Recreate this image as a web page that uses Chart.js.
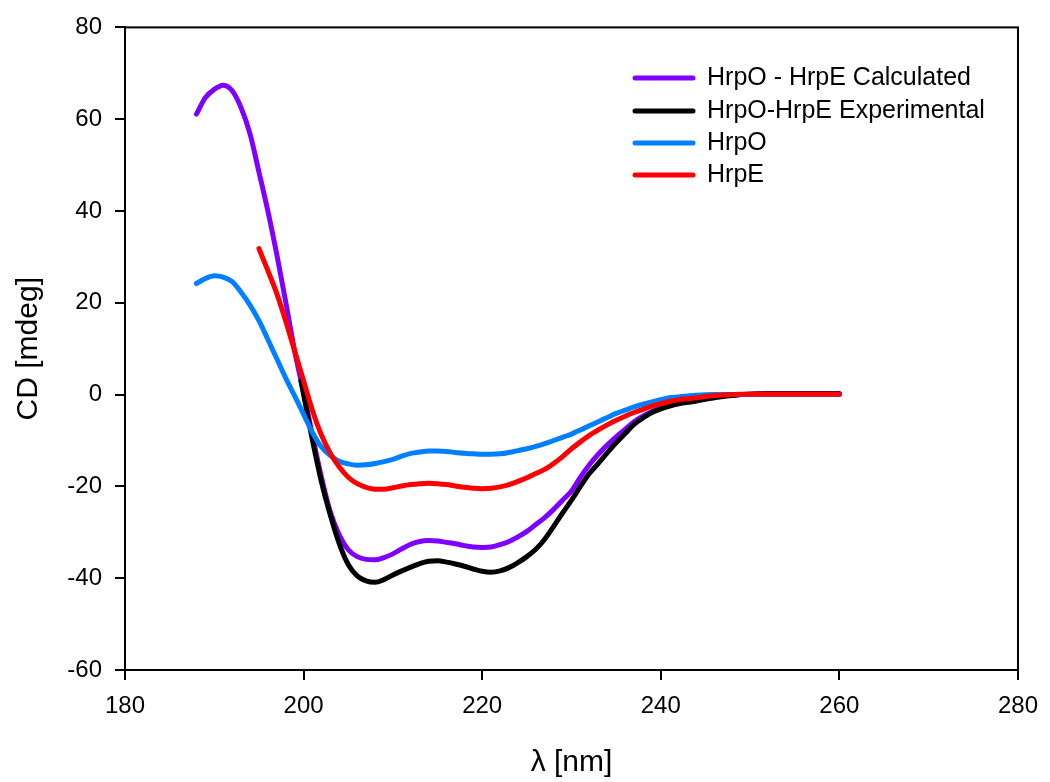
<!DOCTYPE html>
<html>
<head>
<meta charset="utf-8">
<script src="https://cdn.jsdelivr.net/npm/chart.js@4.4.0/dist/chart.umd.min.js"></script>
<style>
html,body{margin:0;padding:0;background:#fff;}
#wrap{width:1050px;height:782px;}
</style>
</head>
<body>
<div id="wrap"><canvas id="c" width="1050" height="782"></canvas></div>
<script>
// Wavelengths (nm)
const wavelengths = [188,189,190,191,192,193,194,195,196,197,198,199,200,201,202,203,204,205,206,207,208,209,210,211,212,213,214,215,216,217,218,219,220,221,222,223,224,225,226,227,228,229,230,231,232,233,234,235,236,237,238,239,240,241,242,243,244,245,246,247,248,249,250,251,252,253,254,255,256,257,258,259,260];
const wlExperimental = [199.7,200,201,202,203,204,205,206,207,208,209,210,211,212,213,214,215,216,217,218,219,220,221,222,223,224,225,226,227,228,229,230,231,232,233,234,235,236,237,238,239,240,241,242,243,244,245,246,247,248,249,250,251,252,253,254,255,256,257,258,259,260];
const wlHrpE = [195,196,197,198,199,200,201,202,203,204,205,206,207,208,209,210,211,212,213,214,215,216,217,218,219,220,221,222,223,224,225,226,227,228,229,230,231,232,233,234,235,236,237,238,239,240,241,242,243,244,245,246,247,248,249,250,251,252,253,254,255,256,257,258,259,260];

// CD [mdeg]
const calculated = [61.1,64.7,66.5,67.4,66.2,62.5,56.8,48.5,40.0,30.5,20.2,9.5,0.5,-9.0,-18.0,-25.6,-30.6,-33.8,-35.3,-35.9,-36.0,-35.5,-34.7,-33.6,-32.6,-32.0,-31.8,-31.9,-32.2,-32.5,-32.9,-33.2,-33.3,-33.2,-32.7,-32.0,-31.0,-29.8,-28.3,-26.8,-25.0,-23.0,-21.0,-18.0,-15.3,-13.0,-11.0,-9.2,-7.6,-5.9,-4.7,-3.7,-2.9,-2.2,-1.7,-1.3,-1.1,-0.8,-0.5,-0.3,-0.1,0.0,0.1,0.1,0.2,0.2,0.2,0.2,0.2,0.2,0.2,0.2,0.2];
const experimental = [3.0,0.0,-10.0,-19.0,-26.3,-32.5,-37.0,-39.5,-40.6,-40.9,-40.3,-39.3,-38.4,-37.6,-36.8,-36.3,-36.2,-36.5,-36.9,-37.4,-38.0,-38.5,-38.7,-38.4,-37.7,-36.6,-35.3,-33.7,-31.5,-28.7,-25.8,-23.0,-20.0,-17.2,-15.0,-12.7,-10.5,-8.5,-6.5,-5.1,-3.9,-3.1,-2.5,-2.0,-1.7,-1.4,-1.0,-0.7,-0.4,-0.2,0.0,0.1,0.2,0.2,0.2,0.2,0.2,0.2,0.2,0.2,0.2,0.2];
const hrpO = [24.2,25.3,25.9,25.6,24.6,22.3,19.5,16.1,12.0,7.8,3.6,-0.3,-4.3,-8.3,-11.4,-13.3,-14.5,-15.1,-15.4,-15.3,-15.0,-14.6,-14.1,-13.4,-12.8,-12.5,-12.3,-12.3,-12.4,-12.6,-12.8,-12.9,-13.0,-13.0,-12.9,-12.6,-12.2,-11.8,-11.3,-10.7,-10.0,-9.3,-8.6,-7.7,-6.8,-5.9,-5.0,-4.1,-3.4,-2.7,-2.1,-1.6,-1.1,-0.7,-0.5,-0.3,-0.15,-0.05,0,0,0,0,0,0,0,0,0,0,0,0,0,0,0];
const hrpE = [31.8,27.0,22.0,16.0,9.5,3.0,-3.5,-8.8,-12.8,-15.8,-18.0,-19.4,-20.2,-20.6,-20.6,-20.3,-19.9,-19.6,-19.4,-19.3,-19.4,-19.6,-19.9,-20.2,-20.4,-20.5,-20.4,-20.1,-19.6,-18.9,-18.1,-17.2,-16.3,-15.0,-13.5,-11.8,-10.3,-8.9,-7.7,-6.6,-5.6,-4.7,-3.9,-3.2,-2.5,-2.0,-1.5,-1.1,-0.9,-0.7,-0.4,-0.2,-0.1,0.0,0.1,0.1,0.1,0.1,0.1,0.1,0.1,0.1,0.1,0.1,0.1,0.1];

const seriesLabels = ['HrpO - HrpE Calculated','HrpO-HrpE Experimental','HrpO','HrpE'];
const seriesColors = ['#8000FF','#000000','#0080FF','#FF0000'];
const xTickValues = [180,200,220,240,260,280];
const yTickValues = [-60,-40,-20,0,20,40,60,80];

const toPoints = (xs, ys) => xs.map((x, i) => ({x: x, y: ys[i]}));

Chart.defaults.font.family = "'Liberation Sans', Arial, Helvetica, sans-serif";
Chart.defaults.color = '#000';

const frame = {
  id: 'frame',
  afterDraw(chart) {
    const {ctx, chartArea: a} = chart;
    ctx.save();
    ctx.strokeStyle = '#000';
    ctx.lineWidth = 2;
    ctx.strokeRect(a.left, a.top, a.right - a.left, a.bottom - a.top);
    ctx.restore();
  }
};

const insideLegend = {
  id: 'insideLegend',
  afterDraw(chart) {
    const ctx = chart.ctx;
    const rows = [78, 111, 143, 175];
    ctx.save();
    ctx.font = "25px 'Liberation Sans', Arial, sans-serif";
    ctx.textBaseline = 'middle';
    ctx.textAlign = 'left';
    chart.data.datasets.forEach((ds, i) => {
      const y = rows[i];
      ctx.strokeStyle = ds.borderColor;
      ctx.lineWidth = 5;
      ctx.lineCap = 'round';
      ctx.beginPath();
      ctx.moveTo(635, y);
      ctx.lineTo(693, y);
      ctx.stroke();
      ctx.fillStyle = '#000';
      ctx.fillText(ds.label, 707, y);
    });
    ctx.restore();
  }
};

const dataSources = [
  [wavelengths, calculated],
  [wlExperimental, experimental],
  [wavelengths, hrpO],
  [wlHrpE, hrpE]
];
const drawOrder = [3, 2, 1, 0];

new Chart(document.getElementById('c'), {
  type: 'line',
  data: {
    datasets: dataSources.map((src, i) => ({
      label: seriesLabels[i],
      data: toPoints(src[0], src[1]),
      borderColor: seriesColors[i],
      backgroundColor: seriesColors[i],
      borderWidth: 5,
      pointRadius: 0,
      fill: false,
      cubicInterpolationMode: 'monotone',
      borderCapStyle: 'round',
      borderJoinStyle: 'round',
      order: drawOrder[i]
    }))
  },
  options: {
    responsive: false,
    animation: false,
    devicePixelRatio: 1,
    layout: {padding: {top: 24, right: 30, left: 0, bottom: 0}},
    plugins: {legend: {display: false}, tooltip: {enabled: false}},
    scales: {
      x: {
        type: 'linear',
        min: 180, max: 280,
        afterBuildTicks: s => { s.ticks = xTickValues.map(v => ({value: v})); },
        afterFit: s => { s.height = 112; },
        ticks: {color: '#000', font: {size: 24}, padding: 12, maxRotation: 0},
        grid: {drawOnChartArea: false, drawTicks: true, tickLength: 10, color: '#000', lineWidth: 2},
        border: {display: true, color: '#000', width: 2},
        title: {display: true, text: 'λ [nm]', color: '#000', font: {size: 30}, padding: {top: 1, bottom: 1}}
      },
      y: {
        type: 'linear',
        min: -60, max: 80,
        afterBuildTicks: s => { s.ticks = yTickValues.map(v => ({value: v})); },
        afterFit: s => { s.width = 125; },
        ticks: {color: '#000', font: {size: 24}, padding: 13},
        grid: {drawOnChartArea: false, drawTicks: true, tickLength: 10, color: '#000', lineWidth: 2},
        border: {display: true, color: '#000', width: 2},
        title: {display: true, text: 'CD [mdeg]', color: '#000', font: {size: 30}, padding: {top: 11, bottom: 0}}
      }
    }
  },
  plugins: [frame, insideLegend]
});
</script>
</body>
</html>
